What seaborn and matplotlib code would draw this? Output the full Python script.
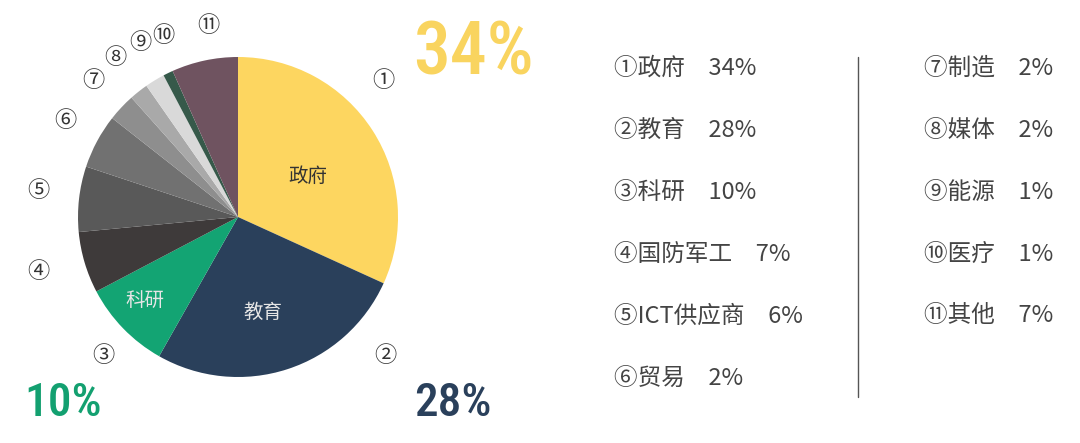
import matplotlib
matplotlib.use("Agg")
import matplotlib.pyplot as plt
from matplotlib import font_manager
import seaborn as sns

### Data
sectors = ['政府', '教育', '科研', '国防军工', 'ICT供应商', '贸易', '制造', '媒体', '能源', '医疗', '其他']
legend_pct = [34, 28, 10, 7, 6, 2, 2, 2, 1, 1, 7]              # values printed in the legend
slice_share = [31.8, 26.4, 9.1, 6.2, 6.6, 5.5, 2.8, 1.9, 2.0, 1.0, 6.7]  # wedge sizes as drawn
marks = ['①', '②', '③', '④', '⑤', '⑥', '⑦', '⑧', '⑨', '⑩', '⑪']
slice_colors = ['#FDD660', '#2A405B', '#13A473', '#3E3A3A', '#595959', '#717171',
                '#8E8E8E', '#A9A9A9', '#D9D9D9', '#36594A', '#6F5360']

### Fonts
sns.set_theme(style='white')
plt.rcParams['font.family'] = ['Noto Sans CJK SC', 'DejaVu Sans']
available = {f.name for f in font_manager.fontManager.ttflist}
num_font = next((f for f in ['Roboto Condensed', 'Liberation Sans Narrow', 'Roboto'] if f in available), 'DejaVu Sans')

W, H = 1080, 443
fig = plt.figure(figsize=(W / 100, H / 100), dpi=100)
fig.patch.set_facecolor('white')
ax = fig.add_axes([0, 0, 1, 1])

#### Pie, pixel coordinates (y measured from the bottom)
cx, cy, r = 238, H - 217, 160
ax.pie(slice_share, colors=slice_colors, startangle=90, counterclock=False,
       center=(cx, cy), radius=r, wedgeprops={'linewidth': 0})
ax.set_xlim(0, W)
ax.set_ylim(0, H)
ax.set_aspect('equal')
ax.axis('off')

def t(x, y, s, **kw):
    ax.text(x, H - y, s, **kw)

### names inside the three big wedges
t(308, 176, sectors[0], fontsize=14, color='#333333', ha='center', va='center')
t(263, 312, sectors[1], fontsize=14, color='#E6E6E6', ha='center', va='center')
t(145, 300, sectors[2], fontsize=14, color='#E6E6E6', ha='center', va='center')

### circled numbers round the pie
mark_xy = [(383, 80), (385, 355), (103, 355), (38, 272), (38, 190), (65, 120),
           (93, 80), (115, 57), (140, 42), (163, 35), (208, 25)]
for m, (x, y) in zip(marks, mark_xy):
    t(x, y, m, fontsize=16, color='#333333', ha='center', va='center')

### big percentages
t(413, 54, f'{legend_pct[0]}%', fontsize=53, color='#F9D45F', fontfamily=num_font,
  fontweight='medium', ha='left', va='center')
t(414, 404, f'{legend_pct[1]}%', fontsize=34, color='#2A405B', fontfamily=num_font,
  fontweight='medium', ha='left', va='center')
t(24, 404, f'{legend_pct[2]}%', fontsize=34, color='#13A070', fontfamily=num_font,
  fontweight='medium', ha='left', va='center')

### legend in two columns
row_y = [68, 130, 192, 254, 316, 378]
for i, (m, name, p) in enumerate(zip(marks, sectors, legend_pct)):
    col, row = divmod(i, 6)
    x = 614 if col == 0 else 924
    t(x, row_y[row], f'{m}{name}\u3000{p}%', fontsize=17, color='#444444',
      fontweight='light', ha='left', va='center')

ax.plot([858, 858], [H - 57, H - 397], color='#555555', linewidth=1)

fig.savefig('out.png', dpi=100, facecolor='white')
